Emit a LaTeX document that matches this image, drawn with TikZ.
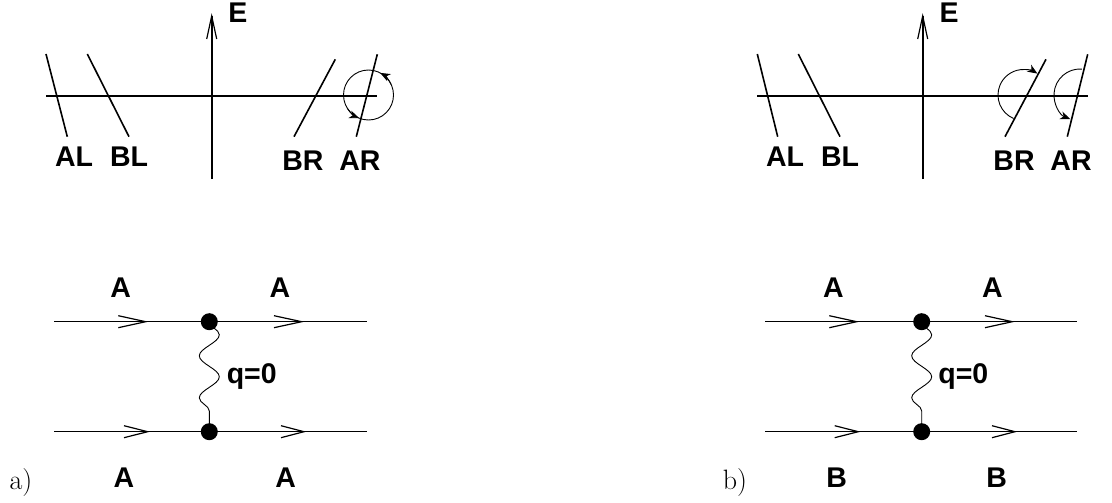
\documentclass[tikz,border=0pt]{standalone}
\usepackage{fontspec}
\newfontfamily\lblfont{Liberation Sans}
\usetikzlibrary{arrows.meta,decorations.pathmorphing}
\begin{document}
\begin{tikzpicture}[x=1pt,y=-1pt,
  lbl/.style={font=\fontsize{28.5}{28.5}\selectfont\lblfont\bfseries, inner sep=0pt},
  tag/.style={font=\fontsize{28}{28}\selectfont\rmfamily, inner sep=0pt},
  thick line/.style={line width=1.6pt},
  prop/.style={line width=1.5pt},
  open tip/.style={line width=1.2pt},
  rot/.style={line width=0.9pt, -{Stealth[length=10pt,width=8pt,inset=3pt]}},
  wave/.style={line width=0.9pt, decorate, decoration={snake, segment length=42pt, amplitude=10pt}},
  dot/.style={circle, fill=black, minimum size=17pt, inner sep=0pt}]
\useasboundingbox (0,0) rectangle (1112,503);

% ---------- panel a, top ----------
\coordinate (aEb) at (211.7,179);
\coordinate (aEt) at (211.7,16);
\draw[thick line] (aEb) -- (aEt);
\draw[open tip] (206.7,39) -- (aEt) -- (216.7,39);
\node[lbl] (aE) at (238,13) {E};
\coordinate (aHl) at (46,96);
\coordinate (aHr) at (377,96);
\draw[thick line] (aHl) -- (aHr);
\draw[thick line] (46,54) coordinate (aALt) -- (67.3,136.7) coordinate (aALb);
\draw[thick line] (87.3,54) coordinate (aBLt) -- (129,136.7) coordinate (aBLb);
\draw[thick line] (335.3,59.3) coordinate (aBRt) -- (294,136.7) coordinate (aBRb);
\draw[thick line] (377.3,54.3) coordinate (aARt) -- (356.3,136.7) coordinate (aARb);
\node[lbl] (aAL) at (74,156.5) {AL};
\node[lbl] (aBL) at (129,156.5) {BL};
\node[lbl] (aBR) at (303,161) {BR};
\node[lbl] (aAR) at (360,161) {AR};
\coordinate (aC) at (368.5,95);
\draw[line width=0.9pt] (aC) circle[radius=25];
\draw[rot] ([shift={(-25:25)}]aC) arc[start angle=-25, end angle=-62, radius=25];
\draw[rot] ([shift={(148:25)}]aC) arc[start angle=148, end angle=112, radius=25];

% ---------- panel b, top ----------
\coordinate (bEb) at (922.7,179);
\coordinate (bEt) at (922.7,16);
\draw[thick line] (bEb) -- (bEt);
\draw[open tip] (917.7,39) -- (bEt) -- (927.7,39);
\node[lbl] (bE) at (949,13) {E};
\coordinate (bHl) at (757.3,96);
\coordinate (bHr) at (1088.3,96);
\draw[thick line] (bHl) -- (bHr);
\draw[thick line] (757.3,54) coordinate (bALt) -- (777.7,136.7) coordinate (bALb);
\draw[thick line] (798.3,54) coordinate (bBLt) -- (840,136.7) coordinate (bBLb);
\draw[thick line] (1046,59.3) coordinate (bBRt) -- (1005,136.7) coordinate (bBRb);
\draw[thick line] (1087.7,54.3) coordinate (bARt) -- (1067.3,136.7) coordinate (bARb);
\node[lbl] (bAL) at (785,156.5) {AL};
\node[lbl] (bBL) at (840,156.5) {BL};
\node[lbl] (bBR) at (1014,161) {BR};
\node[lbl] (bAR) at (1071,161) {AR};
\coordinate (bC1) at (1023.5,95);
\draw[rot] ([shift={(113:25.5)}]bC1) arc[start angle=113, end angle=303, radius=25.5];
\coordinate (bC2) at (1080,95);
\draw[rot] ([shift={(-86:26)}]bC2) arc[start angle=-86, end angle=-248, radius=26];

% ---------- panel a, bottom ----------
\coordinate (aTl) at (54.3,321.7);
\coordinate (aTr) at (366.7,321.7);
\coordinate (aBl) at (54.3,431.7);
\coordinate (aBr) at (366.7,431.7);
\node[dot] (aV1) at (209.3,321.7) {};
\node[dot] (aV2) at (209.3,431.7) {};
\draw[prop] (aTl) -- (aTr);
\draw[prop] (aBl) -- (aBr);
\draw[wave] (aV1.center) -- (aV2.center);
\draw[open tip] (118.3,315.7) -- (145.7,321.7) -- (118.3,327.7);
\draw[open tip] (274,315.7) -- (301.7,321.7) -- (274,327.7);
\draw[open tip] (124,425.7) -- (147.7,431.7) -- (124,437.7);
\draw[open tip] (281,425.7) -- (304,431.7) -- (281,437.7);
\node[lbl] (aA1) at (120.7,287.3) {A};
\node[lbl] (aA2) at (280,287.3) {A};
\node[lbl] (aq) at (251.7,376.7) {q=0};
\node[lbl] (aA3) at (124,477.8) {A};
\node[lbl] (aA4) at (285.7,477.8) {A};
\node[tag] (atag) at (21,482.5) {a)};

% ---------- panel b, bottom ----------
\coordinate (bTl) at (765,321.7);
\coordinate (bTr) at (1077.3,321.7);
\coordinate (bBl) at (765,431.7);
\coordinate (bBr) at (1077.3,431.7);
\node[dot] (bV1) at (921.7,321.7) {};
\node[dot] (bV2) at (921.7,431.7) {};
\draw[prop] (bTl) -- (bTr);
\draw[prop] (bBl) -- (bBr);
\draw[wave] (bV1.center) -- (bV2.center);
\draw[open tip] (829.3,315.7) -- (856.7,321.7) -- (829.3,327.7);
\draw[open tip] (985,315.7) -- (1012.3,321.7) -- (985,327.7);
\draw[open tip] (834.7,425.7) -- (858.3,431.7) -- (834.7,437.7);
\draw[open tip] (992,425.7) -- (1015,431.7) -- (992,437.7);
\node[lbl] (bA1) at (833.3,287.3) {A};
\node[lbl] (bA2) at (992.3,287.3) {A};
\node[lbl] (bq) at (963.3,376.7) {q=0};
\node[lbl] (bB1) at (836.7,477.8) {B};
\node[lbl] (bB2) at (996.7,477.8) {B};
\node[tag] (btag) at (735,482.5) {b)};
\end{tikzpicture}
\end{document}
